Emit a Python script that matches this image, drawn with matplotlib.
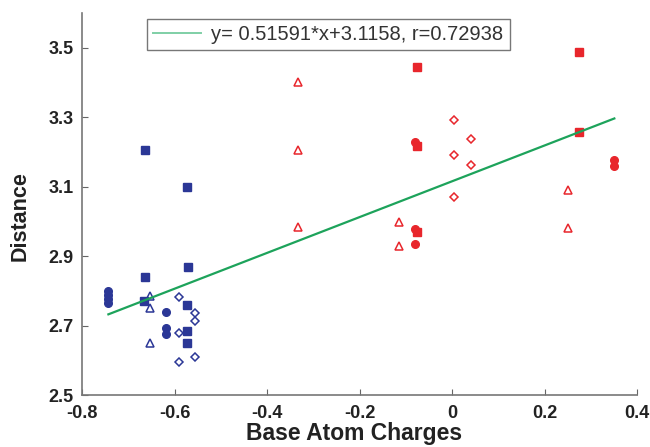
import matplotlib
matplotlib.use("Agg")
import matplotlib.pyplot as plt
from matplotlib.lines import Line2D

plt.rcParams['font.family'] = ['Liberation Sans', 'DejaVu Sans']

BLUE = '#2b3796'
RED = '#e8262c'
GREEN = '#1da35b'

# Blue group
blue_sq_x = [-0.664, -0.574, -0.664, -0.571, -0.665, -0.574, -0.574, -0.572]
blue_sq_y = [3.206, 3.100, 2.841, 2.868, 2.772, 2.759, 2.684, 2.651]
blue_ci_x = [-0.743, -0.743, -0.743, -0.743, -0.618, -0.618, -0.618]
blue_ci_y = [2.800, 2.788, 2.776, 2.764, 2.738, 2.694, 2.676]
blue_tr_x = [-0.654, -0.654, -0.654]
blue_tr_y = [2.785, 2.750, 2.651]
blue_di_x = [-0.590, -0.590, -0.590, -0.556, -0.556, -0.556]
blue_di_y = [2.782, 2.680, 2.596, 2.737, 2.714, 2.609]

# Red group
red_sq_x = [-0.076, -0.076, -0.076, 0.274, 0.274]
red_sq_y = [3.444, 3.218, 2.969, 3.488, 3.258]
red_ci_x = [-0.080, -0.080, -0.080, 0.350, 0.350]
red_ci_y = [3.230, 2.977, 2.935, 3.177, 3.160]
red_tr_x = [-0.334, -0.334, -0.334, -0.114, -0.114, 0.250, 0.250]
red_tr_y = [3.403, 3.206, 2.983, 2.999, 2.930, 3.091, 2.982]
red_di_x = [0.004, 0.004, 0.004, 0.041, 0.041]
red_di_y = [3.292, 3.191, 3.071, 3.239, 3.162]

slope = 0.51591
intercept = 3.1158
fit_x = [-0.743, 0.351]
fit_label = 'y= 0.51591*x+3.1158, r=0.72938'

x_ticks = [-0.8, -0.6, -0.4, -0.2, 0, 0.2, 0.4]
x_tick_labels = ['-0.8', '-0.6', '-0.4', '-0.2', '0', '0.2', '0.4']
y_ticks = [2.5, 2.7, 2.9, 3.1, 3.3, 3.5]
y_tick_labels = ['2.5', '2.7', '2.9', '3.1', '3.3', '3.5']

fig = plt.figure(figsize=(6.5, 4.47), dpi=100)
ax = fig.add_axes([0.1262, 0.1163, 0.8538, 0.854])

ms = 5.5
for xs, ys, c in [(blue_sq_x, blue_sq_y, BLUE), (red_sq_x, red_sq_y, RED)]:
    ax.plot(xs, ys, 's', color=c, ms=ms, mec=c, ls='none')
for xs, ys, c in [(blue_ci_x, blue_ci_y, BLUE), (red_ci_x, red_ci_y, RED)]:
    ax.plot(xs, ys, 'o', color=c, ms=ms, mec=c, ls='none')
for xs, ys, c in [(blue_tr_x, blue_tr_y, BLUE), (red_tr_x, red_tr_y, RED)]:
    ax.plot(xs, ys, '^', mfc='none', mec=c, ms=ms + 0.5, mew=1.1, ls='none')
for xs, ys, c in [(blue_di_x, blue_di_y, BLUE), (red_di_x, red_di_y, RED)]:
    ax.plot(xs, ys, 'D', mfc='none', mec=c, ms=ms - 1.0, mew=1.1, ls='none')

fit_y = [slope * v + intercept for v in fit_x]
ax.plot(fit_x, fit_y, '-', color=GREEN, lw=1.6)

ax.set_xlim(-0.8, 0.4)
ax.set_ylim(2.5, 3.6)
ax.set_xticks(x_ticks)
ax.set_xticklabels(x_tick_labels)
ax.set_yticks(y_ticks)
ax.set_yticklabels(y_tick_labels)
for lab in ax.get_xticklabels() + ax.get_yticklabels():
    lab.set_fontweight('bold')
    lab.set_fontsize(13)
    lab.set_color('#222222')
ax.tick_params(direction='in', length=4, width=0.8, color='#666666')
ax.tick_params(axis='y', pad=6)
ax.tick_params(axis='x', pad=7)

for s in ['top', 'right']:
    ax.spines[s].set_visible(False)
for s in ['left', 'bottom']:
    ax.spines[s].set_color('#777777')
    ax.spines[s].set_linewidth(1.2)

ax.set_xlabel('Base Atom Charges', fontsize=16.5, fontweight='bold', color='#222222')
ax.xaxis.set_label_coords(0.49, -0.072)
ax.set_ylabel('Distance', fontsize=15.5, fontweight='bold', color='#222222')
ax.yaxis.set_label_coords(-0.092, 0.47)

handle = Line2D([0], [0], color='#7fcfa6', lw=1.4)
leg = ax.legend([handle], [fit_label], loc='upper left', bbox_to_anchor=(0.117, 0.985),
                fancybox=False, frameon=True, fontsize=14.5, handlelength=2.4,
                borderpad=0.3, handletextpad=0.5, borderaxespad=0)
leg.get_frame().set_edgecolor('#555555')
leg.get_frame().set_linewidth(1.0)
for t in leg.get_texts():
    t.set_color('#333333')

fig.savefig('out.png', dpi=100)
